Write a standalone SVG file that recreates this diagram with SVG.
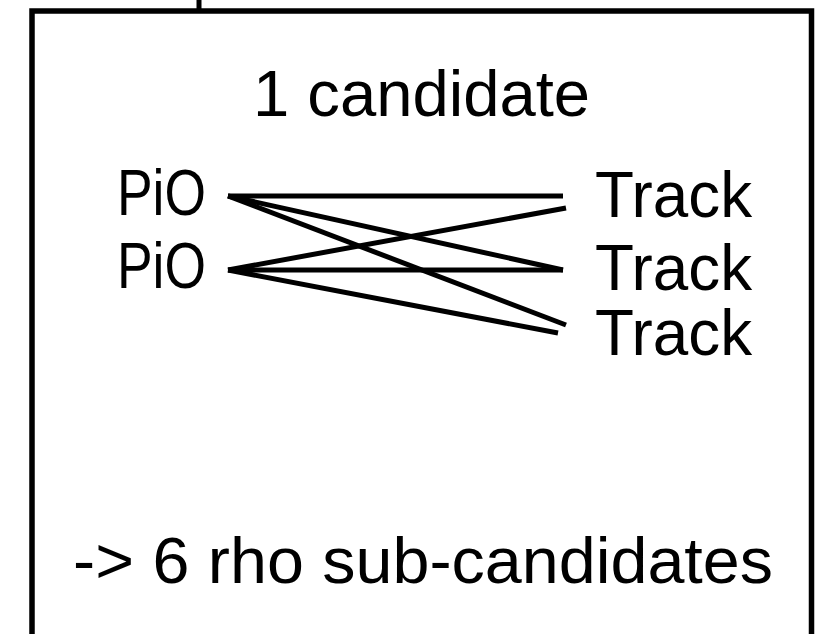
<svg xmlns="http://www.w3.org/2000/svg" width="816" height="634" viewBox="0 0 816 634">
<style>
text{font-family:"Liberation Sans",Arial,sans-serif;font-size:64px;fill:#000}
.ln{stroke:#000;stroke-width:5;fill:none}
</style>
<rect x="0" y="0" width="816" height="634" fill="#fff"/>
<g id="box">
<line class="ln" x1="199" y1="0" x2="199" y2="11" stroke-width="5.5"/>
<rect x="32" y="11" width="779.5" height="700" fill="none" stroke="#000" stroke-width="5.5"/>
</g>
<g id="title"><text x="253" y="116" textLength="337" lengthAdjust="spacingAndGlyphs">1 candidate</text></g>
<g id="pio1"><text x="117" y="215" textLength="89" lengthAdjust="spacingAndGlyphs">PiO</text></g>
<g id="pio2"><text x="117" y="288" textLength="89" lengthAdjust="spacingAndGlyphs">PiO</text></g>
<g id="track1"><text x="595" y="217" textLength="157" lengthAdjust="spacingAndGlyphs">Track</text></g>
<g id="track2"><text x="595" y="290" textLength="157" lengthAdjust="spacingAndGlyphs">Track</text></g>
<g id="track3"><text x="595" y="355" textLength="157" lengthAdjust="spacingAndGlyphs">Track</text></g>
<g id="connectors">
<line class="ln" x1="228" y1="196" x2="563" y2="196"/>
<line class="ln" x1="228" y1="196" x2="563" y2="270"/>
<line class="ln" x1="228" y1="196" x2="566" y2="325"/>
<line class="ln" x1="228" y1="270" x2="566" y2="208"/>
<line class="ln" x1="228" y1="270" x2="563" y2="270"/>
<line class="ln" x1="228" y1="270" x2="558" y2="333"/>
</g>
<g id="result"><text x="73" y="583" textLength="700" lengthAdjust="spacingAndGlyphs">-&gt; 6 rho sub-candidates</text></g>
</svg>
